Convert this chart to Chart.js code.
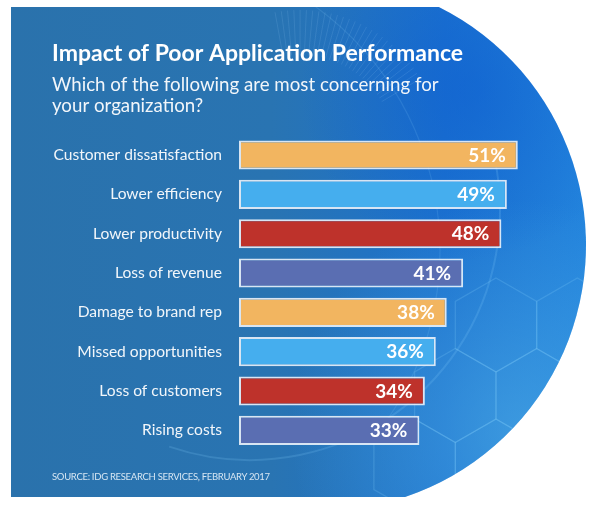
<!DOCTYPE html>
<html>
<head>
<meta charset="utf-8">
<script src="https://cdn.jsdelivr.net/npm/chart.js@4.4.1/dist/chart.umd.min.js"></script>
<style>
  html, body { margin: 0; padding: 0; background: #ffffff; }
  #wrap { position: relative; width: 600px; height: 510px; }
  #c { position: absolute; left: 0; top: 0; }
  #source {
    position: absolute; left: 52px; top: 470.5px;
    font-family: Lato, "Open Sans", sans-serif; font-size: 9.5px;
    letter-spacing: -0.3px; color: #d6e6f3; white-space: nowrap;
  }
</style>
</head>
<body>
<div id="wrap">
  <canvas id="c" width="600" height="510"></canvas>
  <div id="source">SOURCE: IDG RESEARCH SERVICES, FEBRUARY 2017</div>
</div>
<script>
const categories = [
  "Customer dissatisfaction",
  "Lower efficiency",
  "Lower productivity",
  "Loss of revenue",
  "Damage to brand rep",
  "Missed opportunities",
  "Loss of customers",
  "Rising costs"
];
const values = [51, 49, 48, 41, 38, 36, 34, 33];
const barColors = ["#F2B560", "#45AEEE", "#BE322B", "#5A6EB2", "#F2B560", "#45AEEE", "#BE322B", "#5A6EB2"];
const titleText = "Impact of Poor Application Performance";
const subtitleLines = ["Which of the following are most concerning for", "your organization?"];

// Background shape (decorative panel with rounded right side)
const panelPlugin = {
  id: 'panel',
  beforeDraw(chart) {
    const ctx = chart.ctx;
    const cx = 320, cy = 245, r = 266, top = 7, bottom = 497, left = 11;
    const xTop = cx + Math.sqrt(r * r - (cy - top) * (cy - top));
    const xBot = cx + Math.sqrt(r * r - (bottom - cy) * (bottom - cy));
    const aTop = Math.atan2(top - cy, xTop - cx);
    const aBot = Math.atan2(bottom - cy, xBot - cx);
    ctx.save();
    ctx.beginPath();
    ctx.moveTo(left, top);
    ctx.lineTo(xTop, top);
    ctx.arc(cx, cy, r, aTop, aBot, false);
    ctx.lineTo(left, bottom);
    ctx.closePath();
    const g = ctx.createLinearGradient(left, 0, 590, 0);
    g.addColorStop(0, '#2A72AC');
    g.addColorStop(0.45, '#2974B2');
    g.addColorStop(0.75, '#1C72CF');
    g.addColorStop(1, '#2384DD');
    ctx.fillStyle = g;
    ctx.fill();
    ctx.clip();
    const rg = ctx.createRadialGradient(520, 430, 10, 520, 430, 230);
    rg.addColorStop(0, 'rgba(80,175,230,0.55)');
    rg.addColorStop(1, 'rgba(80,175,230,0)');
    ctx.fillStyle = rg;
    ctx.fillRect(0, 0, 600, 510);
    const rg2 = ctx.createRadialGradient(470, 90, 10, 470, 90, 170);
    rg2.addColorStop(0, 'rgba(10,90,210,0.45)');
    rg2.addColorStop(1, 'rgba(10,90,210,0)');
    ctx.fillStyle = rg2;
    ctx.fillRect(0, 0, 600, 510);
    ctx.lineWidth = 2;
    ctx.strokeStyle = 'rgba(140,210,255,0.18)';
    ctx.beginPath(); ctx.arc(250, 210, 250, -0.2, 1.9); ctx.stroke();
    ctx.lineWidth = 1.2;
    ctx.strokeStyle = 'rgba(140,210,255,0.14)';
    ctx.beginPath(); ctx.arc(140, 250, 300, -1.1, 0.6); ctx.stroke();
    ctx.strokeStyle = 'rgba(170,215,255,0.13)';
    ctx.lineWidth = 1;
    for (let i = 0; i < 28; i++) {
      const a = -1.75 + i * 0.045;
      const x1 = 300 + Math.cos(a) * 95, y1 = 150 + Math.sin(a) * 95;
      const x2 = 300 + Math.cos(a) * 140, y2 = 150 + Math.sin(a) * 140;
      ctx.beginPath(); ctx.moveTo(x1, y1); ctx.lineTo(x2, y2); ctx.stroke();
    }
    ctx.strokeStyle = 'rgba(140,215,255,0.2)';
    ctx.lineWidth = 1.3;
    const hr = 47, hw = Math.sqrt(3) * hr;
    const hexes = [[496, 325], [496 + hw, 325], [496 - hw / 2, 325 + 1.5 * hr], [496 + hw / 2, 325 + 1.5 * hr],
                   [496 + 1.5 * hw, 325 + 1.5 * hr], [496 - hw, 325 + 3 * hr], [496, 325 + 3 * hr], [496 + hw, 325 + 3 * hr]];
    hexes.forEach(([hx, hy]) => {
      ctx.beginPath();
      for (let k = 0; k < 6; k++) {
        const a = -Math.PI / 2 + k * Math.PI / 3;
        const px = hx + hr * Math.cos(a), py = hy + hr * Math.sin(a);
        if (k === 0) ctx.moveTo(px, py); else ctx.lineTo(px, py);
      }
      ctx.closePath();
      ctx.stroke();
    });
    ctx.restore();
  }
};

// Value labels drawn inside bar ends
const valueLabels = {
  id: 'valueLabels',
  afterDatasetsDraw(chart) {
    const ctx = chart.ctx;
    const meta = chart.getDatasetMeta(0);
    ctx.save();
    ctx.font = 'bold 19px Lato, "Open Sans", sans-serif';
    ctx.fillStyle = '#ffffff';
    ctx.textAlign = 'right';
    ctx.textBaseline = 'middle';
    meta.data.forEach((bar, i) => {
      ctx.fillText(values[i] + '%', bar.x - 12, bar.y + 0.5);
    });
    ctx.restore();
  }
};

new Chart(document.getElementById('c'), {
  type: 'bar',
  data: {
    labels: categories,
    datasets: [{
      data: values,
      backgroundColor: barColors,
      borderColor: 'rgba(235,242,250,0.9)',
      borderWidth: 2,
      borderSkipped: false,
      barPercentage: 0.74,
      categoryPercentage: 1.0
    }]
  },
  options: {
    indexAxis: 'y',
    responsive: false,
    animation: false,
    devicePixelRatio: 1,
    layout: { padding: { left: 52, right: 33, top: 0, bottom: 60 } },
    plugins: {
      legend: { display: false },
      tooltip: { enabled: false },
      title: {
        display: true,
        text: titleText,
        align: 'start',
        color: '#ffffff',
        font: { family: 'Lato, "Open Sans", sans-serif', size: 23, weight: 'bold', lineHeight: 1.2 },
        padding: { top: 40, bottom: 0 }
      },
      subtitle: {
        display: true,
        text: subtitleLines,
        align: 'start',
        color: '#f2f6fa',
        font: { family: 'Lato, "Open Sans", sans-serif', size: 18.7, weight: 'normal', lineHeight: 1.13 },
        padding: { top: 7, bottom: 18.5 }
      }
    },
    scales: {
      x: { display: false, min: 0, max: 60 },
      y: {
        afterFit(scale) { scale.width = 187; },
        grid: { display: false, drawTicks: false },
        border: { display: false },
        ticks: {
          color: '#f2f6fa',
          padding: 17,
          font: { family: 'Lato, "Open Sans", sans-serif', size: 15.6 }
        }
      }
    }
  },
  plugins: [panelPlugin, valueLabels]
});
</script>
</body>
</html>
